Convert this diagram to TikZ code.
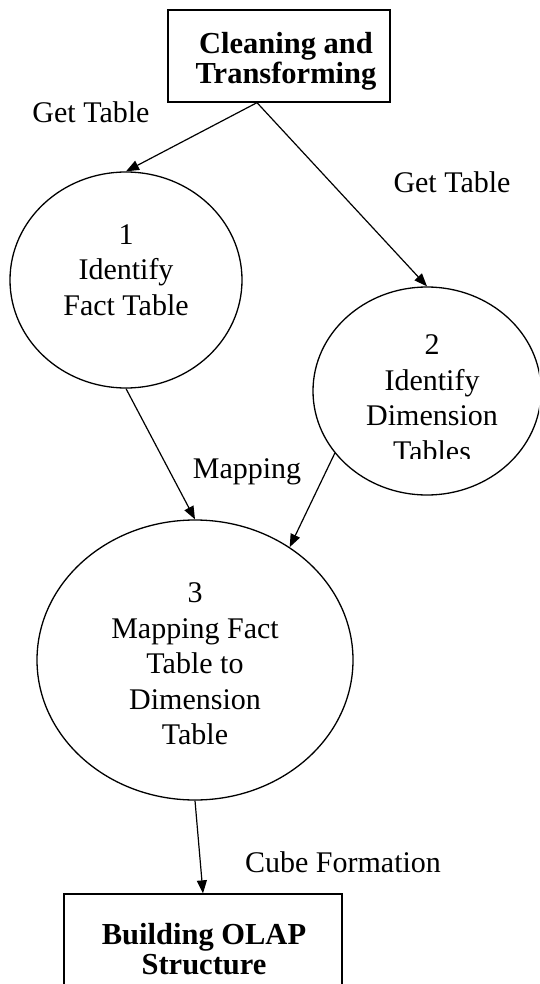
\documentclass[tikz,border=0pt]{standalone}
\usepackage{fontspec}
\setmainfont{Liberation Serif}
\usetikzlibrary{shapes.geometric,arrows.meta}

\tikzset{
  procbox/.style={draw, rectangle, line width=1.3pt, inner sep=0pt},
  bubble/.style={draw, ellipse, line width=1.3pt, inner sep=0pt},
  boxtext/.style={align=center, inner sep=0pt, font=\fontsize{30.5}{30}\selectfont\bfseries},
  bubbletext/.style={align=center, inner sep=0pt, font=\fontsize{30}{35.5}\selectfont},
  flowlabel/.style={inner sep=0pt, anchor=base, font=\fontsize{30}{36}\selectfont},
  flow/.style={line width=1.2pt, -{Triangle[length=13pt,width=10pt]}}
}

\begin{document}
\begin{tikzpicture}[x=1pt, y=-1pt]
  \useasboundingbox (0,0) rectangle (539,984);
  \clip (0,0) rectangle (539,984);

  % process boxes
  \node[procbox, minimum width=222pt, minimum height=92pt] (clean) at (279,56) {};
  \node[boxtext] (cleantxt) at (286,61) {Cleaning and\\Transforming};

  \node[procbox, minimum width=278pt, minimum height=120pt] (olap) at (203,954) {};
  \node[boxtext] (olaptxt) at (204,949) {Building OLAP\\Structure};

  % process bubbles
  \node[bubble, minimum width=232pt, minimum height=216pt] (fact) at (126,280) {};
  \node[bubbletext] (facttxt) at (126,270) {1\\Identify\\Fact Table};

  \node[bubble, minimum width=228pt, minimum height=208pt] (dim) at (427,391) {};
  \begin{scope}
    \clip (300,300) rectangle (539,458);
    \node[bubbletext] (dimtxt) at (432,398) {2\\Identify\\Dimension\\Tables};
  \end{scope}

  \node[bubble, minimum width=316pt, minimum height=280pt] (map) at (195,660) {};
  \node[bubbletext] (maptxt) at (195,664) {3\\Mapping Fact\\Table to\\Dimension\\Table};

  % data flows
  \draw[flow] ([xshift=-22pt]clean.south) -- (fact.north);
  \draw[flow] ([xshift=-22pt]clean.south) -- (dim.north);
  \draw[flow] (fact.south) -- (map.north);
  \draw[flow] (dim.214) -- (map.50);
  \draw[flow] (map.south) -- (olap.north);

  % flow labels
  \node[flowlabel] (lget1) at (91,123) {Get Table};
  \node[flowlabel] (lget2) at (452,193) {Get Table};
  \node[flowlabel] (lmap) at (247,478) {Mapping};
  \node[flowlabel] (lcube) at (343,872) {Cube Formation};
\end{tikzpicture}
\end{document}
